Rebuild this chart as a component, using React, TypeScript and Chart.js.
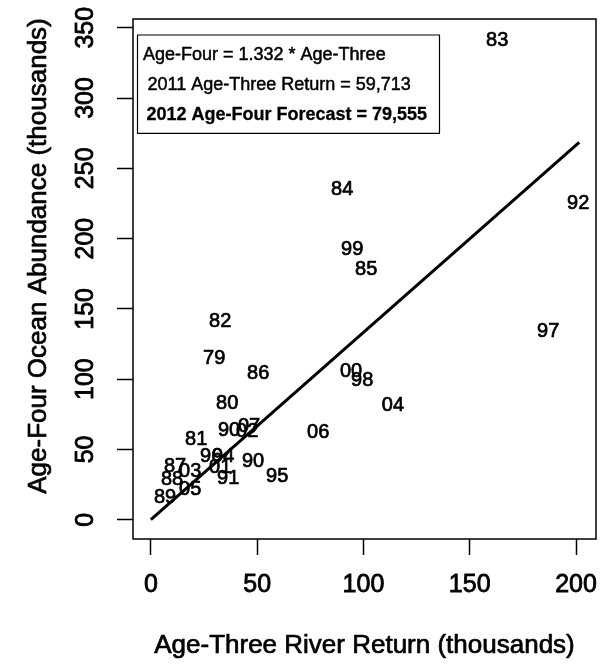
import React, { useEffect, useRef } from "react";
import { Chart, registerables } from "chart.js";

Chart.register(...registerables);

const FONT = '"Liberation Sans", Arial, Helvetica, sans-serif';

// Year labels drawn at each point
const yearLabels = ["83", "84", "92", "99", "85", "82", "97", "79", "86", "00", "98", "04", "80", "06", "81", "90", "02", "07", "96", "94", "01", "91", "90", "95", "87", "03", "88", "05", "89"];
// Age-three river return (thousands)
const riverReturn = [162.9, 90.0, 201.0, 94.7, 101.3, 32.6, 186.9, 29.8, 50.5, 94.2, 99.4, 113.9, 35.9, 78.7, 21.3, 36.8, 45.3, 46.2, 28.4, 34.0, 32.6, 36.4, 48.1, 59.4, 11.4, 18.5, 10.0, 18.5, 6.7];
// Age-four ocean abundance (thousands)
const oceanAbundance = [341.2, 234.6, 224.7, 191.9, 177.7, 140.8, 133.7, 114.5, 103.8, 105.3, 98.8, 81.0, 82.5, 61.9, 56.9, 63.3, 62.6, 66.1, 44.8, 44.8, 37.0, 29.1, 41.2, 30.6, 37.7, 34.1, 28.4, 21.3, 15.6];
// Fitted line endpoints
const fitX = [0, 201.5];
const fitY = [0, 268.4];

const xTicks = [0, 50, 100, 150, 200];
const yTicks = [0, 50, 100, 150, 200, 250, 300, 350];

const xTitle = "Age-Three River Return (thousands)";
const yTitle = "Age-Four Ocean Abundance (thousands)";
const legendLines = [
  "Age-Four = 1.332 * Age-Three",
  "2011 Age-Three Return = 59,713",
  "2012 Age-Four Forecast = 79,555",
];

function heavyText(ctx: any, text: string, x: number, y: number, w = 0.6) {
  ctx.fillText(text, x, y);
  ctx.lineWidth = w;
  ctx.strokeText(text, x, y);
}

const annotPlugin = {
  id: "rAnnot",
  afterDatasetsDraw(chart: any) {
    const ctx = chart.ctx;
    const { left, top, right, bottom } = chart.chartArea;
    ctx.save();
    ctx.strokeStyle = "#000";
    ctx.lineWidth = 1.5;
    ctx.strokeRect(left, top, right - left, bottom - top);

    // point labels
    const meta = chart.getDatasetMeta(0);
    ctx.fillStyle = "#000";
    ctx.font = `20px ${FONT}`;
    ctx.textAlign = "center";
    ctx.textBaseline = "middle";
    ctx.lineJoin = "round";
    meta.data.forEach((el: any, i: number) => {
      heavyText(ctx, yearLabels[i], el.x, el.y, 0.7);
    });

    // legend box
    ctx.lineWidth = 1.2;
    ctx.strokeRect(left + 4.5, top + 16, 302, 98.3);
    ctx.textAlign = "left";
    ctx.font = `18px ${FONT}`;
    heavyText(ctx, legendLines[0], left + 10, 55, 0.5);
    heavyText(ctx, legendLines[1], left + 14.5, 85.5, 0.5);
    ctx.font = `bold 18px ${FONT}`;
    heavyText(ctx, legendLines[2], left + 13.5, 115.5, 0.3);

    // x axis title
    ctx.font = `26px ${FONT}`;
    ctx.textAlign = "center";
    heavyText(ctx, xTitle, (left + right) / 2, 646, 0.7);

    // y axis title
    ctx.translate(39, 256);
    ctx.rotate(-Math.PI / 2);
    heavyText(ctx, yTitle, 0, 0, 0.7);
    ctx.restore();
  },
};

export default function App() {
  const ref = useRef<HTMLCanvasElement | null>(null);

  useEffect(() => {
    if (!ref.current) return;
    Chart.defaults.font.family = FONT;
    Chart.defaults.color = "#000";
    const chart = new Chart(ref.current, {
      type: "scatter",
      data: {
        datasets: [
          {
            label: "years",
            data: riverReturn.map((x, i) => ({ x, y: oceanAbundance[i] })),
            pointRadius: 0,
            pointHoverRadius: 0,
            showLine: false,
          },
          {
            type: "line",
            label: "fit",
            data: fitX.map((x, i) => ({ x, y: fitY[i] })),
            borderColor: "#000",
            borderWidth: 3,
            pointRadius: 0,
            fill: false,
            tension: 0,
          } as any,
        ],
      },
      options: {
        responsive: false,
        animation: false,
        devicePixelRatio: 1,
        layout: { padding: { left: 0, right: 11, top: 19, bottom: 0 } },
        plugins: { legend: { display: false }, tooltip: { enabled: false } },
        events: [],
        scales: {
          x: {
            type: "linear",
            position: "bottom",
            min: -8.4,
            max: 209.4,
            afterBuildTicks: (s: any) => {
              s.ticks = xTicks.map((v) => ({ value: v }));
            },
            afterFit: (s: any) => {
              s.height = 127;
              s.paddingLeft = 0;
              s.paddingRight = 0;
              s.paddingTop = 0;
              s.paddingBottom = 0;
            },
            grid: {
              display: true,
              drawOnChartArea: false,
              drawTicks: true,
              tickLength: 16,
              tickWidth: 1.5,
              tickColor: "#000",
            },
            border: { display: false },
            ticks: {
              autoSkip: false,
              minRotation: 0,
              maxRotation: 0,
              padding: 15,
              color: "#000",
              textStrokeColor: "#000",
              textStrokeWidth: 0.8,
              font: { size: 25, family: FONT },
            },
          },
          y: {
            type: "linear",
            position: "left",
            min: -13.7,
            max: 356.2,
            afterBuildTicks: (s: any) => {
              s.ticks = yTicks.map((v) => ({ value: v }));
            },
            afterFit: (s: any) => {
              s.width = 133;
              s.paddingLeft = 0;
              s.paddingRight = 0;
              s.paddingTop = 0;
              s.paddingBottom = 0;
            },
            grid: {
              display: true,
              drawOnChartArea: false,
              drawTicks: true,
              tickLength: 16,
              tickWidth: 1.5,
              tickColor: "#000",
            },
            border: { display: false },
            ticks: {
              autoSkip: false,
              minRotation: 90,
              maxRotation: 90,
              crossAlign: "center",
              padding: 10,
              color: "#000",
              textStrokeColor: "#000",
              textStrokeWidth: 0.8,
              font: { size: 25, family: FONT },
            },
          },
        },
      },
      plugins: [annotPlugin],
    } as any);
    return () => chart.destroy();
  }, []);

  return (
    <div style={{ position: "fixed", left: 0, top: 0, width: 607, height: 666, background: "#fff" }}>
      <canvas ref={ref} width={607} height={666} style={{ display: "block" }} />
    </div>
  );
}
